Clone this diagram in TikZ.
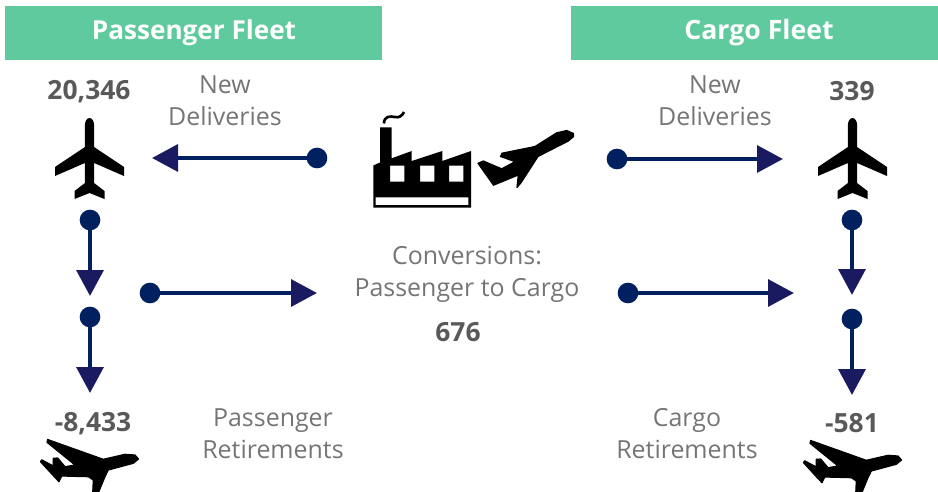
\documentclass[tikz,border=0pt]{standalone}
\usepackage{fontspec}
\setmainfont{Open Sans}
\usetikzlibrary{arrows.meta}
\definecolor{hdr}{HTML}{5FCA9D}
\definecolor{dotc}{HTML}{002060}
\definecolor{arrc}{HTML}{1A1A60}
\definecolor{lbl}{HTML}{757575}
\definecolor{num}{HTML}{595959}
\tikzset{
  x=0.75pt,y=-0.75pt,
  hdrbox/.style={fill=hdr,draw=none,inner sep=0},
  hdrtext/.style={text=white,font=\fontsize{19.6}{24}\selectfont\bfseries,inner sep=0},
  lbltext/.style={text=lbl,font=\fontsize{18.7}{23.8}\selectfont,align=center,inner sep=0},
  numtext/.style={text=num,font=\fontsize{19.8}{22}\selectfont\bfseries,inner sep=0},
  dotnode/.style={circle,fill=dotc,draw=none,minimum size=15.5pt,inner sep=0},
  conn/.style={draw=dotc,line width=3.3pt,-{Triangle[length=19.5pt,width=20pt,color=arrc]}},
  icon/.style={fill=black,draw=none},
  thickicon/.style={fill=black,draw=black,line width=0.9pt,line join=round},
  pics/upplane/.style={code={
    \fill[icon] (0,-29) .. controls (-3,-29) and (-4.6,-25) .. (-4.6,-22) -- (-4.6,0) -- (-34.5,20) -- (-34.5,29) -- (-4.6,16) -- (-4.6,36) -- (-15,44) -- (-15,52) -- (0,46) -- (15,52) -- (15,44) -- (4.6,36) -- (4.6,16) -- (34.5,29) -- (34.5,20) -- (4.6,0) -- (4.6,-22) .. controls (4.6,-25) and (3,-29) .. (0,-29) -- cycle;
  }},
  pics/bigplane/.style={code={
    \path[thickicon] (47.7,439.5) -- (103.3,459.3) -- (125,454.3) -- (135,455) -- (138.5,459) -- (133.3,463.3) -- (108.3,470) -- (105,476.7) -- (98.3,493) -- (92.7,493) -- (93.3,480) -- (88.3,476.7) -- (61.7,476) -- (59,481.7) -- (55.7,478.3) -- (40.5,461.7) -- (41.7,459.8) -- (53.3,466) -- (53.3,458.3) -- (57.7,458) -- (65,466.7) -- (75,465) -- (47,442.3) -- cycle;
  }}
}
\begin{document}
\begin{tikzpicture}
\useasboundingbox (0,0) rectangle (938,492);
\node[hdrbox,minimum width=283pt,minimum height=40.5pt] (hl) at (193.5,33) {};
\node[hdrbox,minimum width=275.25pt,minimum height=40.5pt] (hr) at (754.5,33) {};
\node[hdrtext] (tl) at (194,33) {Passenger Fleet};
\node[hdrtext,font=\fontsize{20}{24}\selectfont\bfseries] (tr) at (759,33) {Cargo Fleet};

\node[numtext] (n1) at (89,91.5) {20,346};
\node[numtext] (n2) at (852,91.5) {339};
\node[numtext] (n3) at (93,423.5) {-8,433};
\node[numtext] (n4) at (852,423.5) {-581};
\node[numtext] (n5) at (458,332) {676};

\node[lbltext] (l1) at (225,100.5) {New\\Deliveries};
\node[lbltext] (l2) at (715,100.5) {New\\Deliveries};
\node[lbltext] (l3) at (467,274.5) {Conversions:\\Passenger to Cargo};
\node[lbltext] (l4) at (273,433.5) {Passenger\\Retirements};
\node[lbltext] (l5) at (687,433.5) {Cargo\\Retirements};

\pic at (89.5,147) {upplane};
\pic at (852.5,147) {upplane};
\begin{scope}
\clip (0,400) rectangle (938,492);
\pic at (0,0) {bigplane};
\pic at (763,1) {bigplane};
\end{scope}

% factory
\fill[icon,even odd rule] (373.3,165.5) -- (380,162.5) -- (380,127.3) -- (391.7,127.3) -- (391.7,158.3) -- (411.7,151) -- (411.7,161) -- (442.3,151) -- (442.3,161) -- (471,151) -- (471,207.5) -- (373.3,207.5) -- cycle
 (390,165.7) rectangle (404.3,181.7)
 (420,165.7) rectangle (434.3,181.7)
 (449,165.7) rectangle (463.3,181.7)
 (375.7,197.3) rectangle (468.3,205);
\draw[black,line width=2pt] (384,123.5) .. controls (384,116) and (390,116) .. (395,117) .. controls (399,118) and (402,116) .. (404,112);
% take-off plane
\path[thickicon] (573.5,133.5) -- (566.7,130.5) -- (556.7,132.8) -- (535,146.5) -- (502,153.2) -- (500.5,156.5) -- (515,161.7) -- (501.7,168.8) -- (483.3,161) -- (478,163.3) -- (493.5,185.2) -- (518.3,175) -- (517,187.5) -- (521.2,182.5) -- (538,156.5) -- (568,141.2) -- (573.5,136.7) -- cycle;

% connectors
\node[dotnode] (d1) at (317,158) {};
\coordinate (t1) at (152,158);
\node[dotnode] (d2) at (617,159) {};
\coordinate (t2) at (783,159);
\node[dotnode] (d3) at (90,220) {};
\coordinate (t3) at (90,296);
\node[dotnode] (d4) at (90,317) {};
\coordinate (t4) at (90,393);
\node[dotnode] (d5) at (852,220) {};
\coordinate (t5) at (852,295);
\node[dotnode] (d6) at (852,319) {};
\coordinate (t6) at (852,395);
\node[dotnode] (d7) at (150,293) {};
\coordinate (t7) at (317,293);
\node[dotnode] (d8) at (628,293) {};
\coordinate (t8) at (794,293);
\foreach \a/\b in {d1/t1,d2/t2,d3/t3,d4/t4,d5/t5,d6/t6,d7/t7,d8/t8}
  \draw[conn] (\a.center) -- (\b);
\end{tikzpicture}
\end{document}
